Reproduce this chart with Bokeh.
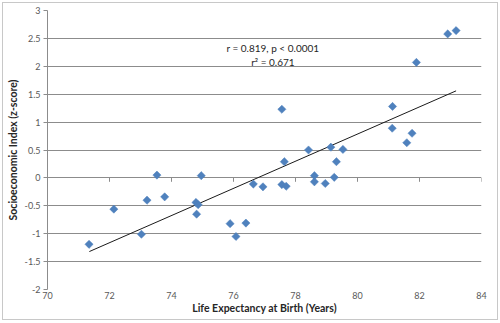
import numpy as np
from bokeh.plotting import figure
from bokeh.models import FixedTicker, CustomJSTickFormatter, Label, ColumnDataSource
from bokeh.embed import file_html
from bokeh.resources import INLINE

# Data
life_expectancy = [71.34, 72.14, 73.03, 73.21, 73.53, 73.78, 74.79, 74.86, 74.81, 74.96,
                   75.89, 76.08, 76.40, 76.64, 76.95, 77.56, 77.56, 77.70, 77.64, 78.42,
                   78.61, 78.61, 78.96, 79.14, 79.25, 79.32, 79.53, 81.13, 81.12, 81.59,
                   81.76, 81.90, 82.91, 83.18]
socio_index = [-1.19, -0.56, -1.01, -0.40, 0.05, -0.34, -0.44, -0.48, -0.65, 0.04,
               -0.82, -1.05, -0.81, -0.11, -0.16, 1.23, -0.12, -0.15, 0.29, 0.50,
               0.04, -0.07, -0.10, 0.55, 0.01, 0.29, 0.51, 1.28, 0.89, 0.63,
               0.80, 2.07, 2.58, 2.64]
trend_x = [71.35, 83.18]
trend_y = [-1.32, 1.56]
x_ticks = [70, 72, 74, 76, 78, 80, 82, 84]
y_ticks = [-2, -1.5, -1, -0.5, 0, 0.5, 1, 1.5, 2, 2.5, 3]
stat_line1 = "r = 0.819, p < 0.0001"
stat_line2 = "r\u00b2 = 0.671"
x_title = "Life Expectancy at Birth (Years)"
y_title = "Socioeconomic Index (z-score)"

FONT = "Lato"
GRID = "#8c8c8c"
TXT = "#595959"

p = figure(width=496, height=318, x_range=(70, 84), y_range=(-2, 3),
           output_backend="svg", toolbar_location=None,
           min_border_left=39, min_border_right=18, min_border_top=7, min_border_bottom=32,
           styles={"margin-left": "2px", "margin-top": "2px", "border": "1px solid #c8c8c8"})
p.outline_line_color = None
p.background_fill_color = "white"
p.border_fill_color = "white"

fmt = CustomJSTickFormatter(code="return tick.toString();")

# x axis: labels only at bottom
p.xaxis.ticker = FixedTicker(ticks=x_ticks)
p.xaxis.formatter = fmt
p.xaxis.axis_line_color = None
p.xaxis.major_tick_line_color = None
p.xaxis.major_tick_out = 0
p.xaxis.major_tick_in = 0
p.xaxis.minor_tick_line_color = None
p.xaxis.minor_tick_out = 0
p.xaxis.major_label_standoff = 2
p.xaxis.major_label_text_font = FONT
p.xaxis.major_label_text_font_size = "9px"
p.xaxis.major_label_text_color = TXT
p.xaxis.axis_label = x_title
p.xaxis.axis_label_text_font = FONT
p.xaxis.axis_label_text_font_size = "10.5px"
p.xaxis.axis_label_text_font_style = "bold"
p.xaxis.axis_label_text_color = "#262626"
p.xaxis.axis_label_standoff = 0

p.yaxis.ticker = FixedTicker(ticks=y_ticks)
p.yaxis.formatter = fmt
p.yaxis.axis_line_color = GRID
p.yaxis.major_tick_line_color = GRID
p.yaxis.major_tick_out = 4
p.yaxis.major_tick_in = 0
p.yaxis.minor_tick_line_color = None
p.yaxis.major_label_standoff = 3
p.yaxis.major_label_text_font = FONT
p.yaxis.major_label_text_font_size = "9px"
p.yaxis.major_label_text_color = TXT
p.yaxis.axis_label = y_title
p.yaxis.axis_label_text_font = FONT
p.yaxis.axis_label_text_font_size = "10.5px"
p.yaxis.axis_label_text_font_style = "bold"
p.yaxis.axis_label_text_color = "#262626"
p.yaxis.axis_label_standoff = 3

p.xgrid.grid_line_color = None
p.ygrid.ticker = FixedTicker(ticks=y_ticks)
p.ygrid.grid_line_color = GRID
p.ygrid.grid_line_width = 1

# tick marks on the horizontal axis crossing at y = 0
tick_x = x_ticks[1:]
p.segment(x0=tick_x, y0=[0] * len(tick_x), x1=tick_x, y1=[-0.07] * len(tick_x),
          line_color=GRID, line_width=1)

# trend line
p.line(trend_x, trend_y, line_color="#1a1a1a", line_width=1)

# points
src = ColumnDataSource(dict(x=life_expectancy, y=socio_index))
p.scatter("x", "y", source=src, marker="square", angle=np.pi / 4, size=5.8,
          fill_color="#4F81BD", line_color="#4F81BD", line_width=0.5)

p.add_layout(Label(x=77.27, y=2.32, text=stat_line1, text_align="center", text_baseline="middle",
                   text_font=FONT, text_font_size="10px", text_color="#262626"))
p.add_layout(Label(x=77.27, y=2.08, text=stat_line2, text_align="center", text_baseline="middle",
                   text_font=FONT, text_font_size="10px", text_color="#262626"))

open("out.html", "w").write(file_html(p, INLINE))
